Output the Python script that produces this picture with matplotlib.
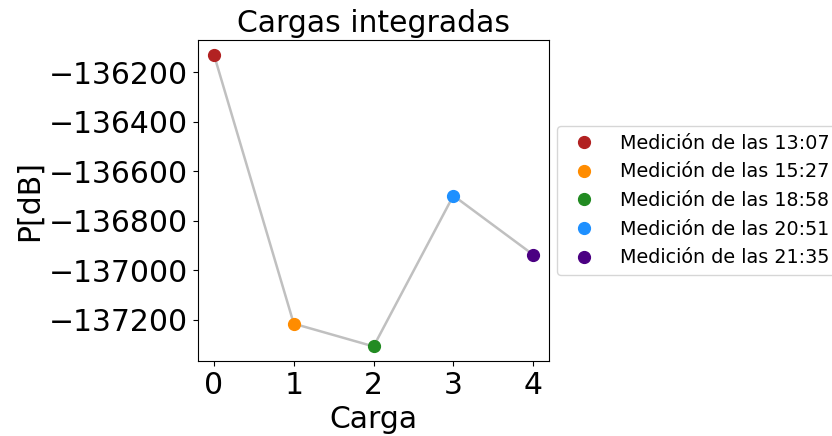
import matplotlib
matplotlib.use("Agg")
from matplotlib import pyplot as plt
from matplotlib.ticker import MultipleLocator

cargas = [0, 1, 2, 3, 4]
potencias = [-136128, -137216, -137308, -136698, -136937]
horas = ["13:07", "15:27", "18:58", "20:51", "21:35"]
colores = ["firebrick", "darkorange", "forestgreen", "dodgerblue", "indigo"]

fig = plt.figure(figsize=(8.32, 4.36), dpi=100)
ax = fig.add_subplot(111)
fig.subplots_adjust(left=0.238, right=0.66, top=0.908, bottom=0.172)

ax.plot(cargas, potencias, color="silver", linewidth=1.8, zorder=1)
for x, y, hora, c in zip(cargas, potencias, horas, colores):
    ax.plot(x, y, "o", color=c, markersize=8.5, label=f"Medición de las {hora}", zorder=2)

ax.set_title("Cargas integradas", fontsize=21.5)
ax.set_xlabel("Carga", fontsize=21.5)
ax.set_ylabel("P[dB]", fontsize=21.5)
ax.set_xticks(cargas)
ax.yaxis.set_major_locator(MultipleLocator(200))
ax.tick_params(labelsize=21.5)
ax.legend(loc="center left", bbox_to_anchor=(0.995, 0.5), fontsize=13.8,
          handletextpad=0.9)

plt.savefig("out.png")
